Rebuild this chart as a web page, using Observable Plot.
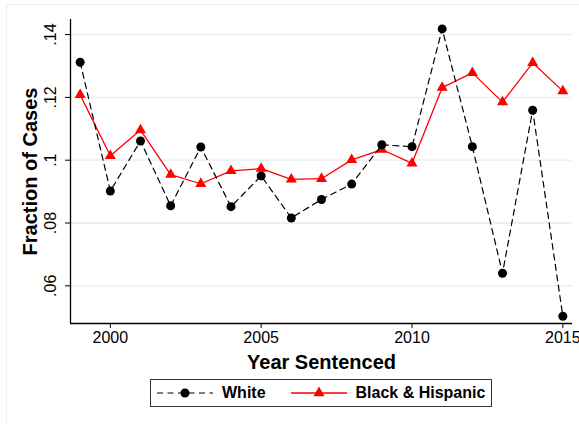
<!DOCTYPE html>
<html>
<head>
<meta charset="utf-8">
<script src="https://cdn.jsdelivr.net/npm/d3@7"></script>
<script src="https://cdn.jsdelivr.net/npm/@observablehq/plot@0.6"></script>
<style>
  html, body { margin: 0; padding: 0; background: #fff; }
  #wrap { position: relative; width: 579px; height: 424px; overflow: hidden; font-family: "Liberation Sans", Arial, sans-serif; }
  #frame { position: absolute; left: 6px; top: 4px; width: 640px; height: 440px; border: 1.5px solid #e9f0f2; box-sizing: border-box; }
  #chart { position: absolute; left: 0; top: 0; }
  #legend { position: absolute; left: 150px; top: 379px; width: 342px; height: 28px; box-sizing: border-box; border: 1px solid #333; display: flex; align-items: center; font-weight: bold; font-size: 16px; color: #000; }
  #legend .item { display: flex; align-items: center; }
  #legend svg { display: block; }
</style>
</head>
<body>
<div id="wrap">
  <div id="frame"></div>
  <div id="chart"></div>
  <div id="legend"></div>
</div>
<script>
const years = [1999, 2000, 2001, 2002, 2003, 2004, 2005, 2006, 2007, 2008, 2009, 2010, 2011, 2012, 2013, 2014, 2015];
const white = [0.1312, 0.0902, 0.1061, 0.0855, 0.1042, 0.0852, 0.0950, 0.0816, 0.0875, 0.0924, 0.1049, 0.1043, 0.1418, 0.1043, 0.0640, 0.1159, 0.0503];
const blackHispanic = [0.1208, 0.1014, 0.1096, 0.0954, 0.0925, 0.0966, 0.0973, 0.0939, 0.0941, 0.1001, 0.1034, 0.0990, 0.1231, 0.1278, 0.1185, 0.1310, 0.1220];
const seriesNames = ["White", "Black & Hispanic"];
const xTicks = [2000, 2005, 2010, 2015];
const yTicks = [0.06, 0.08, 0.10, 0.12, 0.14];
const yTickLabels = [".06", ".08", ".1", ".12", ".14"];
const xTitle = "Year Sentenced";
const yTitle = "Fraction of Cases";

const rowsW = years.map((y, i) => ({year: y, value: white[i]}));
const rowsB = years.map((y, i) => ({year: y, value: blackHispanic[i]}));
const font = "Liberation Sans, Arial, sans-serif";

const plot = Plot.plot({
  width: 579,
  height: 372,
  marginLeft: 70,
  marginRight: 7,
  marginTop: 19,
  marginBottom: 49,
  style: {fontFamily: font, background: "transparent", overflow: "visible"},
  x: {domain: [1998.68, 2015.32]},
  y: {domain: [0.0480, 0.1448]},
  marks: [
    Plot.gridY(yTicks, {stroke: "#e6eef1", strokeOpacity: 1, strokeWidth: 1.3}),
    Plot.axisY({
      ticks: yTicks,
      tickFormat: d => yTickLabels[yTicks.findIndex(t => Math.abs(t - d) < 1e-9)],
      tickSize: 5,
      tickPadding: 10,
      tickRotate: -90,
      fontSize: 16,
      label: yTitle,
      labelAnchor: "center",
      labelArrow: "none",
      labelOffset: 48,
      stroke: "#000"
    }),
    Plot.axisX({
      ticks: xTicks,
      tickFormat: d => String(d),
      tickSize: 5,
      tickPadding: 3,
      fontSize: 16,
      label: xTitle,
      labelAnchor: "center",
      labelArrow: "none",
      labelOffset: 45,
      stroke: "#000"
    }),
    Plot.ruleX([1998.68], {stroke: "#000", strokeWidth: 1.3}),
    Plot.ruleY([0.0480], {stroke: "#000", strokeWidth: 1.3}),
    Plot.line(rowsB, {x: "year", y: "value", stroke: "#ff0000", strokeWidth: 1.3}),
    Plot.dot(rowsB, {x: "year", y: "value", symbol: "triangle", r: 4.1, fill: "#ff0000", stroke: "none"}),
    Plot.line(rowsW, {x: "year", y: "value", stroke: "#000", strokeWidth: 1.2, strokeDasharray: "6,4.5"}),
    Plot.dot(rowsW, {x: "year", y: "value", symbol: "circle", r: 4.5, fill: "#000", stroke: "none"})
  ]
});
document.getElementById("chart").appendChild(plot);

plot.querySelectorAll("g[aria-label='x-axis label'] text, g[aria-label='y-axis label'] text").forEach(t => {
  t.setAttribute("font-weight", "bold");
  t.setAttribute("font-size", "20");
});

const legend = document.getElementById("legend");
function item(name, kind, gapLeft) {
  const d = document.createElement("div");
  d.className = "item";
  d.style.marginLeft = gapLeft + "px";
  const ns = "http://www.w3.org/2000/svg";
  const s = document.createElementNS(ns, "svg");
  s.setAttribute("width", 56); s.setAttribute("height", 14);
  const l = document.createElementNS(ns, "line");
  l.setAttribute("x1", 0); l.setAttribute("x2", 56); l.setAttribute("y1", 7); l.setAttribute("y2", 7);
  if (kind === "w") {
    l.setAttribute("stroke", "#000"); l.setAttribute("stroke-width", 1.2); l.setAttribute("stroke-dasharray", "6,4.5");
  } else {
    l.setAttribute("stroke", "#ff0000"); l.setAttribute("stroke-width", 1.3);
  }
  s.appendChild(l);
  const sym = d3.symbol(kind === "w" ? d3.symbolCircle : d3.symbolTriangle, kind === "w" ? Math.PI * 4.5 * 4.5 : Math.PI * 4.1 * 4.1)();
  const p = document.createElementNS(ns, "path");
  p.setAttribute("d", sym);
  p.setAttribute("transform", "translate(28,7)");
  p.setAttribute("fill", kind === "w" ? "#000" : "#ff0000");
  s.appendChild(p);
  d.appendChild(s);
  const t = document.createElement("span");
  t.textContent = name;
  t.style.marginLeft = "9px";
  d.appendChild(t);
  return d;
}
legend.appendChild(item(seriesNames[0], "w", 6));
legend.appendChild(item(seriesNames[1], "b", 25));
</script>
</body>
</html>
